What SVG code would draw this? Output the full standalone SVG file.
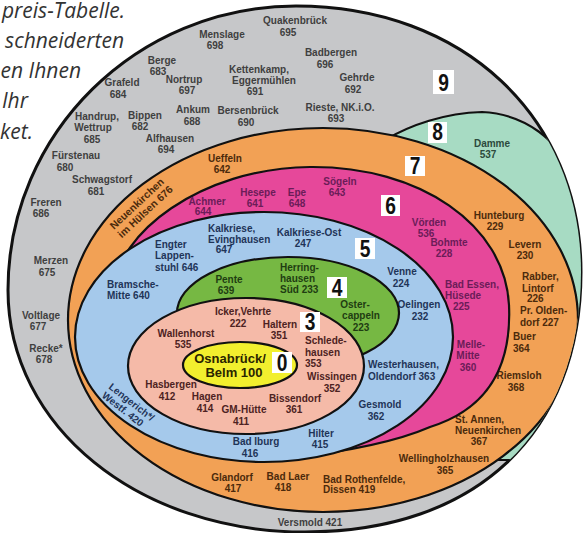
<svg xmlns="http://www.w3.org/2000/svg" width="583" height="533" viewBox="0 0 583 533">
<defs>
<path id="gp" d="M296,6 C463,6 581,117 581,272 C581,433 476,532 305,532 C139,532 8,427 8,290 C8,133 137,6 296,6 Z"/>
<clipPath id="cg"><use href="#gp"/></clipPath>
</defs>
<style>
.z{stroke:#111;stroke-width:2.2}
text{font-family:"Liberation Sans",Arial,sans-serif;font-weight:bold;font-size:10px;text-anchor:middle}
.s{text-anchor:start}
.t9{fill:#3f3f3f}
.t8{fill:#2c4a3c}
.t7{fill:#4b2a0c}
.t6{fill:#6b1c58}
.t5{fill:#1f3458}
.t4{fill:#1f3d12}
.t3{fill:#4d2222}
.t0{fill:#2a2400;font-size:13px}
.box{fill:#fff}
.num{font-size:24px;fill:#111}
.intro{font-family:"Open Sans","Noto Sans",sans-serif;font-style:italic;font-weight:normal;font-size:21px;fill:#333;text-anchor:end}
</style>
<rect width="583" height="533" fill="#fff"/>
<g id="intro">
<text class="intro" x="125" y="18">preis-Tabelle.</text>
<text class="intro" x="124" y="48">schneiderten</text>
<text class="intro" x="81" y="78">en Ihnen</text>
<text class="intro" x="28" y="108">Ihr</text>
<text class="intro" x="33" y="139">ket.</text>
</g>
<g id="zone9">
<use href="#gp" fill="#c6c7c9" stroke="#111" stroke-width="3"/>
<g class="t9">
<text x="295" y="24">Quakenbrück</text><text x="288" y="36">695</text>
<text x="222" y="38">Menslage</text><text x="215" y="49">698</text>
<text x="331" y="56">Badbergen</text><text x="325" y="68">696</text>
<text x="259" y="73">Kettenkamp,</text><text x="264" y="84">Eggermühlen</text><text x="255" y="95">691</text>
<text x="357" y="81">Gehrde</text><text x="353" y="93">692</text>
<text x="340" y="111">Rieste, NK.i.O.</text><text x="336" y="122">693</text>
<text x="248" y="114">Bersenbrück</text><text x="246" y="126">690</text>
<text x="193" y="113">Ankum</text><text x="192" y="125">688</text>
<text x="184" y="83">Nortrup</text><text x="187" y="94">697</text>
<text x="162" y="64">Berge</text><text x="158" y="75">683</text>
<text x="122" y="86">Grafeld</text><text x="118" y="98">684</text>
<text x="97" y="120">Handrup,</text><text x="93" y="131">Wettrup</text><text x="92" y="143">685</text>
<text x="145" y="119">Bippen</text><text x="140" y="130">682</text>
<text x="170" y="142">Alfhausen</text><text x="166" y="153">694</text>
<text x="76" y="159">Fürstenau</text><text x="65" y="171">680</text>
<text x="102" y="183">Schwagstorf</text><text x="96" y="195">681</text>
<text x="46" y="206">Freren</text><text x="41" y="217">686</text>
<text x="51" y="264">Merzen</text><text x="47" y="276">675</text>
<text x="41" y="319">Voltlage</text><text x="38" y="330">677</text>
<text x="46" y="352">Recke*</text><text x="44" y="363">678</text>
<text x="310" y="526">Versmold 421</text>
</g>
</g>
<g id="zone8">
<path class="z" clip-path="url(#cg)" fill="#a7dbc3" d="M385,140 C410,125 445,113 482,112 C525,114 560,140 575,180 C585,210 592,250 592,300 L592,460 L420,460 Z"/>
<text class="t8" x="492" y="147">Damme</text><text class="t8" x="488" y="158">537</text>
</g>
<g id="zone7">
<ellipse class="z" clip-path="url(#cg)" cx="323" cy="320" rx="255" ry="192" fill="#f2a155"/>
<g class="t7">
<text x="225" y="162">Ueffeln</text><text x="222" y="173">642</text>
<text class="s" transform="translate(114,230) rotate(-43)" style="font-size:10.5px"><tspan x="0" y="0">Neuenkirchen</tspan><tspan x="0" y="11.5">im Hülsen 676</tspan></text>
<text x="499" y="219">Hunteburg</text><text x="495" y="230">229</text>
<text x="525" y="248">Levern</text><text x="525" y="259">230</text>
<text class="s" x="522" y="280">Rabber,</text><text class="s" x="522" y="292">Lintorf</text><text class="s" x="527" y="302">226</text>
<text class="s" x="520" y="314">Pr. Olden-</text><text class="s" x="520" y="326">dorf 227</text>
<text class="s" x="513" y="340">Buer</text><text class="s" x="513" y="352">364</text>
<text x="519" y="379">Riemsloh</text><text x="516" y="391">368</text>
<text class="s" x="455" y="423">St. Annen,</text><text class="s" x="455" y="434">Neuenkirchen</text><text x="479" y="445">367</text>
<text x="444" y="462">Wellingholzhausen</text><text x="445" y="474">365</text>
<text class="s" x="323" y="483">Bad Rothenfelde,</text><text class="s" x="323" y="493">Dissen 419</text>
<text x="232" y="481">Glandorf</text><text x="233" y="492">417</text>
<text x="288" y="480">Bad Laer</text><text x="283" y="491">418</text>
</g>
</g>
<g id="zone6">
<path class="z" fill="#e6489a" d="M115,290 C115,235 200,168 310,167 C420,166 505,225 509,305 C512,370 485,410 430,427 C400,440 360,450 290,458 Z"/>
<g class="t6">
<text x="207" y="205">Achmer</text><text x="203" y="215">644</text>
<text x="258" y="196">Hesepe</text><text x="255" y="207">641</text>
<text x="297" y="196">Epe</text><text x="297" y="207">648</text>
<text x="340" y="185">Sögeln</text><text x="337" y="196">643</text>
<text x="429" y="226">Vörden</text><text x="426" y="237">536</text>
<text x="449" y="246">Bohmte</text><text x="444" y="257">228</text>
<text class="s" x="445" y="288">Bad Essen,</text><text class="s" x="445" y="299">Hüsede</text><text class="s" x="453" y="310">225</text>
<text x="471" y="348">Melle-</text><text x="468" y="359">Mitte</text><text x="468" y="371">360</text>
</g>
</g>
<g id="zone5">
<ellipse class="z" cx="264" cy="337" rx="189" ry="125" fill="#a5c9eb"/>
<g class="t5">
<text class="s" x="155" y="248">Engter</text><text class="s" x="155" y="259">Lappen-</text><text class="s" x="155" y="271">stuhl  646</text>
<text class="s" x="208" y="232">Kalkriese,</text><text class="s" x="208" y="243">Evinghausen</text><text x="224" y="253">647</text>
<text x="309" y="236">Kalkriese-Ost</text><text x="303" y="247">247</text>
<text x="402" y="275">Venne</text><text x="401" y="287">224</text>
<text x="419" y="308">Oelingen</text><text x="420" y="320">232</text>
<text class="s" x="368" y="368">Westerhausen,</text><text class="s" x="368" y="380">Oldendorf 363</text>
<text x="380" y="408">Gesmold</text><text x="376" y="420">362</text>
<text x="321" y="437">Hilter</text><text x="320" y="448">415</text>
<text x="256" y="445">Bad Iburg</text><text x="250" y="457">416</text>
<text class="s" x="107" y="288">Bramsche-</text><text class="s" x="107" y="299">Mitte 640</text>
<text class="s" transform="translate(108,388) rotate(38)"><tspan x="0" y="0">Lengerich*/</tspan><tspan x="0" y="11">Westf. 420</tspan></text>
</g>
</g>
<g id="zone4">
<ellipse class="z" cx="288" cy="313" rx="111" ry="56" fill="#76b843"/>
<g class="t4">
<text x="229" y="283">Pente</text><text x="226" y="294">639</text>
<text class="s" x="280" y="271">Herring-</text><text class="s" x="280" y="282">hausen</text><text class="s" x="280" y="293">Süd 233</text>
<text x="355" y="308">Oster-</text><text x="361" y="319">cappeln</text><text x="361" y="331">223</text>
</g>
</g>
<g id="zone3">
<ellipse class="z" cx="246" cy="366" rx="118" ry="68" fill="#f5baa8"/>
<g class="t3">
<text x="243" y="315">Icker,Vehrte</text><text x="238" y="327">222</text>
<text x="280" y="328">Haltern</text><text x="279" y="339">351</text>
<text x="186" y="337">Wallenhorst</text><text x="183" y="348">535</text>
<text class="s" x="305" y="344">Schlede-</text><text class="s" x="305" y="356">hausen</text><text class="s" x="305" y="367">353</text>
<text x="332" y="380">Wissingen</text><text x="332" y="392">352</text>
<text x="295" y="402">Bissendorf</text><text x="294" y="413">361</text>
<text x="171" y="388">Hasbergen</text><text x="167" y="400">412</text>
<text x="207" y="400">Hagen</text><text x="205" y="412">414</text>
<text x="244" y="413">GM-Hütte</text><text x="241" y="425">411</text>
</g>
</g>
<g id="zone0">
<ellipse class="z" cx="240" cy="365" rx="57" ry="23" fill="#f2ef2e"/>
<text class="t0" x="230" y="363">Osnabrück/</text><text class="t0" x="234" y="377">Belm 100</text>
</g>
<g id="numbers">
<rect class="box" x="433" y="70" width="21" height="24"/><text class="num" transform="translate(443.5,91) scale(0.8,1)">9</text>
<rect class="box" x="428" y="122" width="19" height="21"/><text class="num" transform="translate(437.5,140) scale(0.8,1)">8</text>
<rect class="box" x="405" y="156" width="20" height="20"/><text class="num" transform="translate(415,174) scale(0.8,1)">7</text>
<rect class="box" x="381" y="195" width="19" height="21"/><text class="num" transform="translate(390.5,214) scale(0.8,1)">6</text>
<rect class="box" x="355" y="238" width="20" height="21"/><text class="num" transform="translate(365,257) scale(0.8,1)">5</text>
<rect class="box" x="327" y="277" width="20" height="21"/><text class="num" transform="translate(337,296) scale(0.8,1)">4</text>
<rect class="box" x="300" y="312" width="20" height="20"/><text class="num" transform="translate(310,330) scale(0.8,1)">3</text>
<rect class="box" x="272" y="352" width="20" height="21"/><text class="num" transform="translate(282,371) scale(0.8,1)">0</text>
</g>
</svg>
